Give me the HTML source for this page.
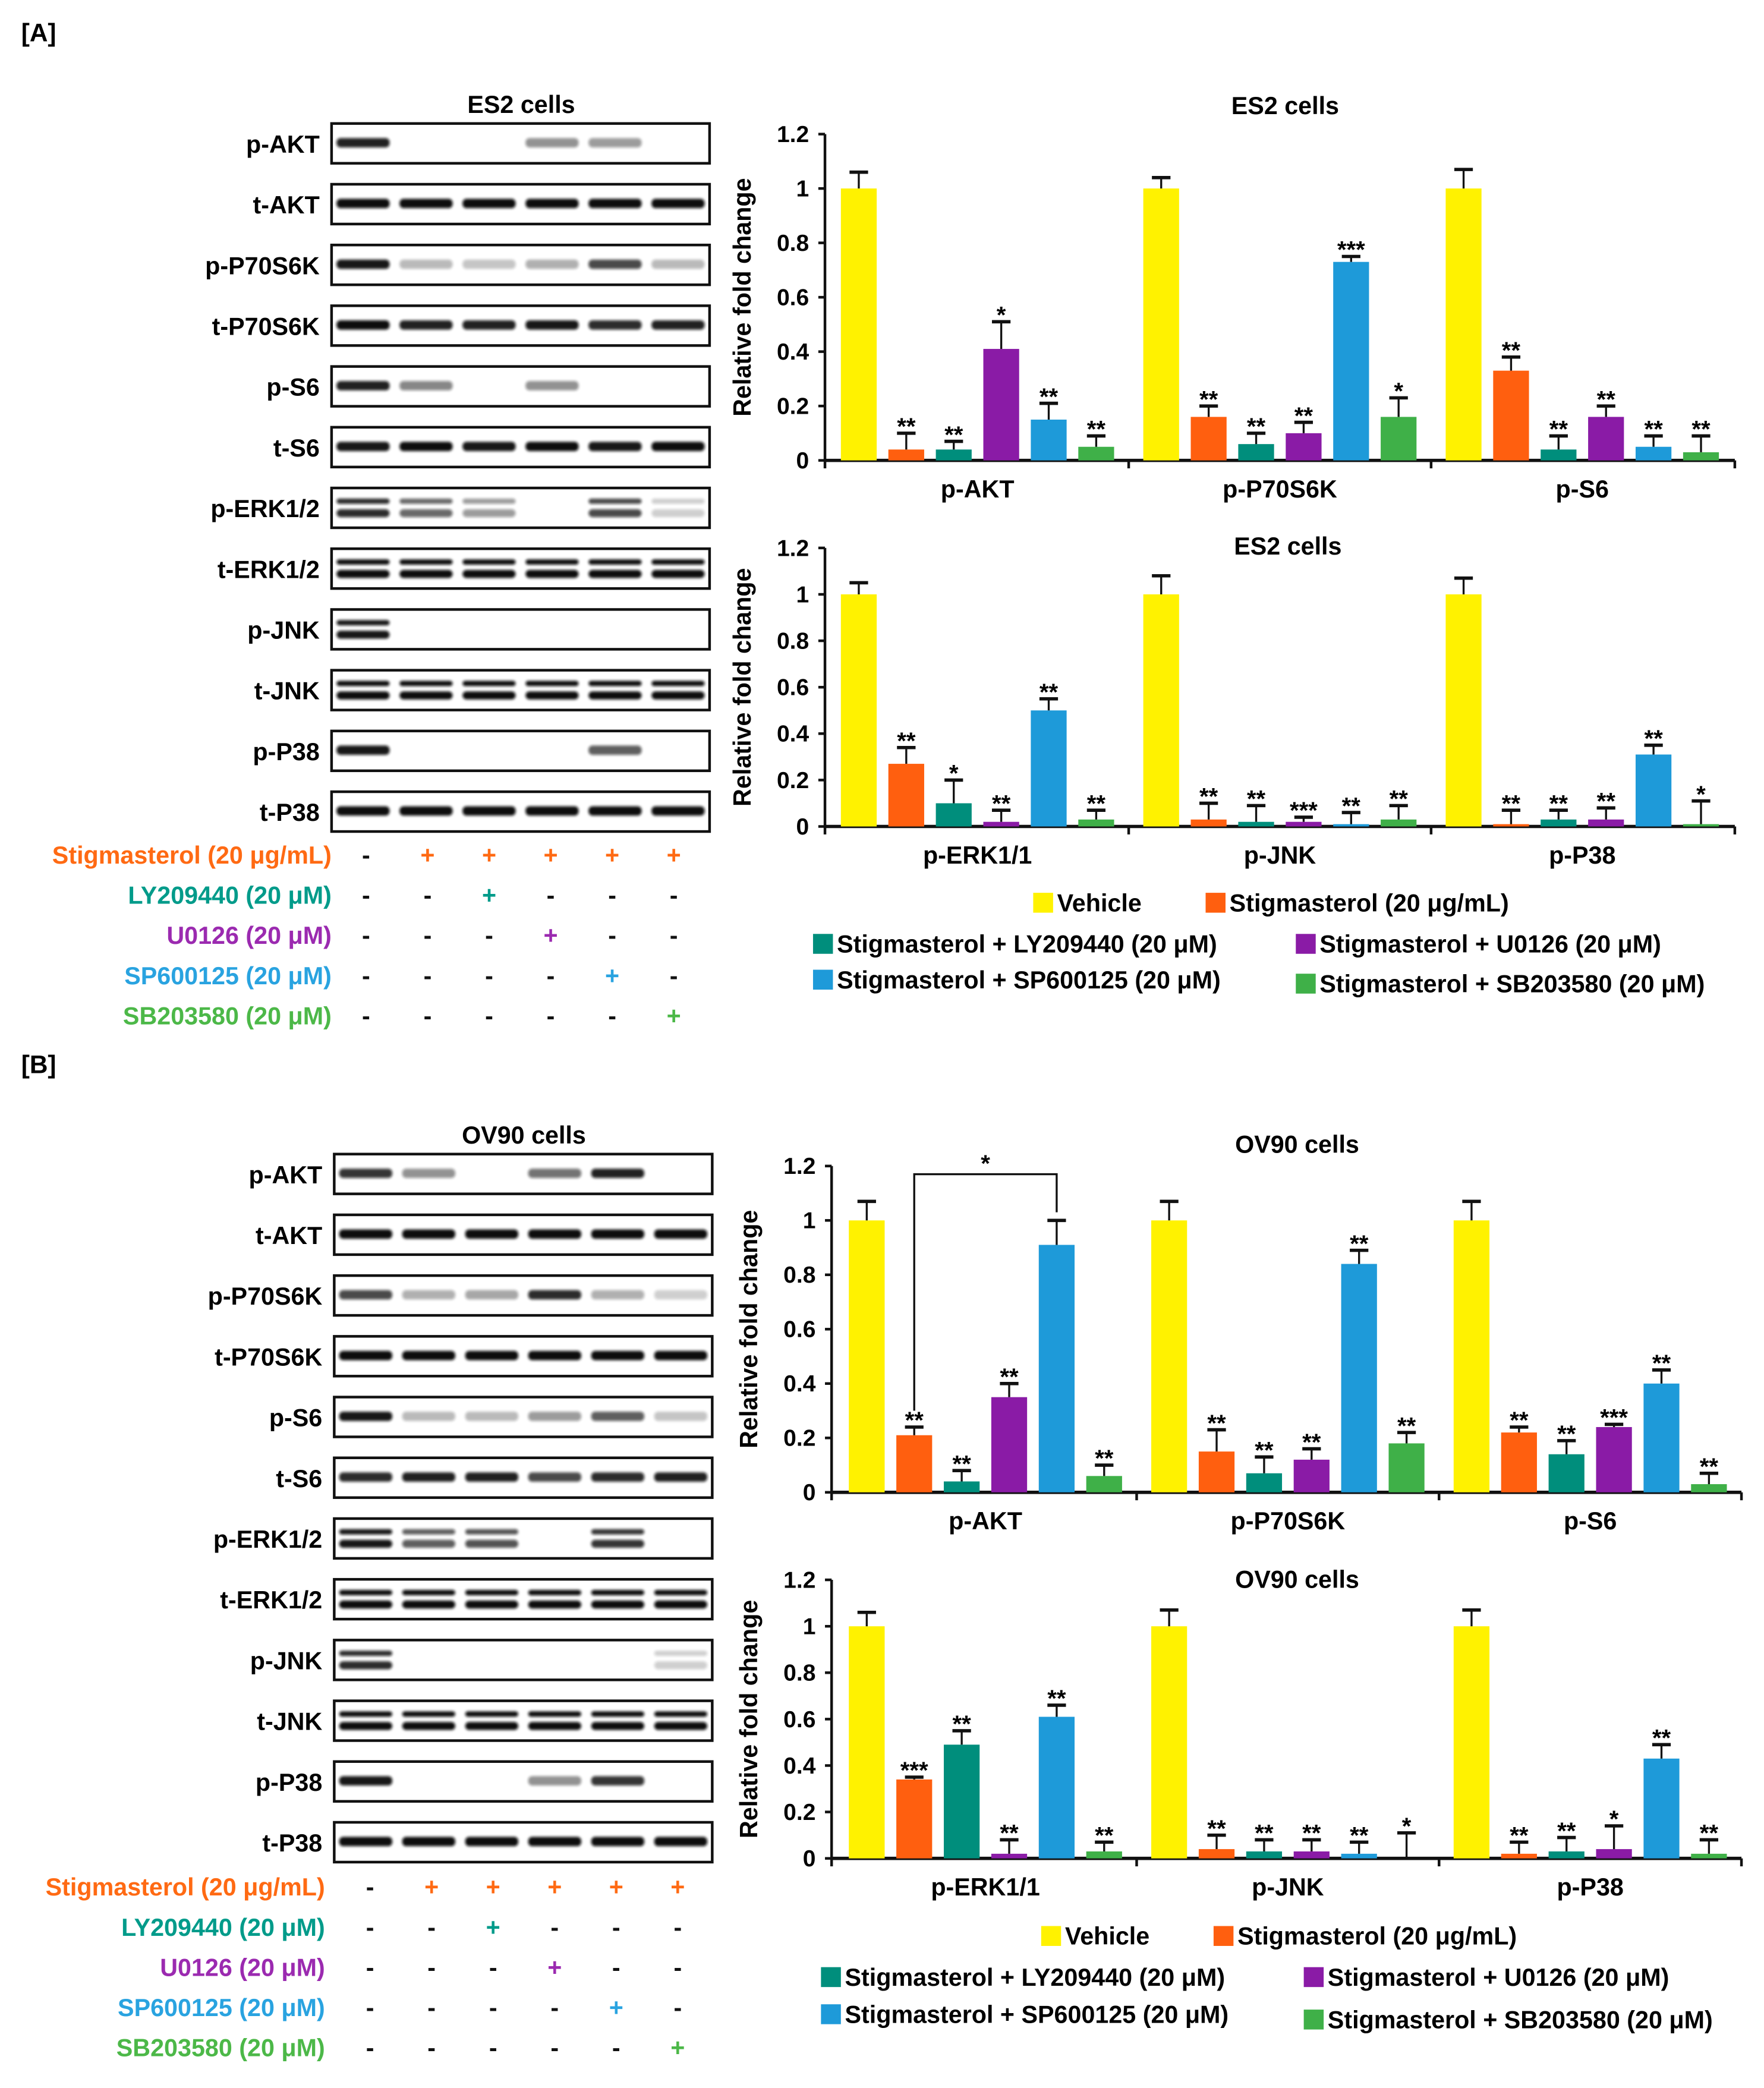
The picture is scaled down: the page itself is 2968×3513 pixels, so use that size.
<!DOCTYPE html>
<html><head><meta charset="utf-8">
<style>
html,body{margin:0;padding:0;background:#fff;}
svg{display:block;}
text{font-family:"Liberation Sans",Arial,sans-serif;font-weight:bold;}
</style></head>
<body>
<svg id="fig" width="2968" height="3513" viewBox="0 0 1330 1574" xmlns="http://www.w3.org/2000/svg">
<defs>
<filter id="blur" x="-20%" y="-100%" width="140%" height="300%"><feGaussianBlur stdDeviation="1.1"/></filter>
</defs>
<text x="16" y="31" font-size="19">[A]</text>
<text x="16" y="809" font-size="19">[B]</text>
<g id="root"></g>
</svg>
<script>
// ---------- data ----------
const groupsTop = ["p-AKT","p-P70S6K","p-S6"];
const groupsBot = ["p-ERK1/1","p-JNK","p-P38"];
const seriesNames = ["Vehicle","Stigmasterol (20 μg/mL)","Stigmasterol + LY209440 (20 μM)","Stigmasterol + U0126 (20 μM)","Stigmasterol + SP600125 (20 μM)","Stigmasterol + SB203580 (20 μM)"];
const yTicks = ["0","0.2","0.4","0.6","0.8","1","1.2"];

const a1Values = [[1,0.04,0.04,0.41,0.15,0.05],[1,0.16,0.06,0.10,0.73,0.16],[1,0.33,0.04,0.16,0.05,0.03]];
const a1Errors = [[0.06,0.06,0.03,0.10,0.06,0.04],[0.04,0.04,0.04,0.04,0.02,0.07],[0.07,0.05,0.05,0.04,0.04,0.06]];
const a1Sig = [["","**","**","*","**","**"],["","**","**","**","***","*"],["","**","**","**","**","**"]];

const a2Values = [[1,0.27,0.10,0.02,0.50,0.03],[1,0.03,0.02,0.02,0.01,0.03],[1,0.01,0.03,0.03,0.31,0.01]];
const a2Errors = [[0.05,0.07,0.10,0.05,0.05,0.04],[0.08,0.07,0.07,0.02,0.05,0.06],[0.07,0.06,0.04,0.05,0.04,0.10]];
const a2Sig = [["","**","*","**","**","**"],["","**","**","***","**","**"],["","**","**","**","**","*"]];

const b1Values = [[1,0.21,0.04,0.35,0.91,0.06],[1,0.15,0.07,0.12,0.84,0.18],[1,0.22,0.14,0.24,0.40,0.03]];
const b1Errors = [[0.07,0.03,0.04,0.05,0.09,0.04],[0.07,0.08,0.06,0.04,0.05,0.04],[0.07,0.02,0.05,0.01,0.05,0.04]];
const b1Sig = [["","**","**","**","","**"],["","**","**","**","**","**"],["","**","**","***","**","**"]];

const b2Values = [[1,0.34,0.49,0.02,0.61,0.03],[1,0.04,0.03,0.03,0.02,0.00],[1,0.02,0.03,0.04,0.43,0.02]];
const b2Errors = [[0.06,0.01,0.06,0.06,0.05,0.04],[0.07,0.06,0.05,0.05,0.05,0.11],[0.07,0.05,0.06,0.10,0.06,0.06]];
const b2Sig = [["","***","**","**","**","**"],["","**","**","**","**","*"],["","**","**","*","**","**"]];

const blotLabels = ["p-AKT","t-AKT","p-P70S6K","t-P70S6K","p-S6","t-S6","p-ERK1/2","t-ERK1/2","p-JNK","t-JNK","p-P38","t-P38"];
const blotA = [[0.9,0,0,0.35,0.3,0],[1,1,1,1,1,1],[0.95,0.15,0.1,0.2,0.7,0.15],[1,0.9,0.9,0.95,0.85,0.9],[0.9,0.4,0,0.35,0,0],[0.95,1,0.95,1,0.95,1],[0.85,0.55,0.3,0,0.7,0.05],[1,1,1,1,1,1],[0.95,0,0,0,0,0],[1,1,1,1,1,1],[0.95,0,0,0,0.6,0],[1,1,1,1,1,1]];
const blotB = [[0.8,0.35,0,0.5,0.9,0],[1,1,1,1,1,1],[0.7,0.2,0.25,0.85,0.2,0.05],[1,1,1,1,1,1],[0.95,0.15,0.15,0.3,0.6,0.1],[0.85,0.9,0.9,0.7,0.85,0.9],[0.95,0.6,0.65,0,0.8,0],[1,1,1,1,1,1],[0.85,0,0,0,0,0.05],[1,1,1,1,1,1],[0.95,0,0,0.35,0.8,0],[1,1,1,1,1,1]];
const treatLabels = ["Stigmasterol (20 μg/mL)","LY209440 (20 μM)","U0126 (20 μM)","SP600125 (20 μM)","SB203580 (20 μM)"];
const treatSigns = [["-","+","+","+","+","+"],["-","-","+","-","-","-"],["-","-","-","+","-","-"],["-","-","-","-","+","-"],["-","-","-","-","-","+"]];

// ---------- styles ----------
const colors = ["#FFF200","#FF5F0F","#008E7C","#8A1BA6","#1E9AD9","#3FB048"];
const tColors = ["#FF6A13","#009B8A","#9B2AB0","#29A3E0","#4CB848"];
const FS = 18.5;
const NS = "http://www.w3.org/2000/svg";
const root = document.getElementById("root");
function el(tag, attrs, parent, txt){
  const e = document.createElementNS(NS, tag);
  for (const k in attrs) e.setAttribute(k, attrs[k]);
  if (txt !== undefined) e.textContent = txt;
  (parent || root).appendChild(e);
  return e;
}
const doubleRows = {6:1,7:1,8:1,9:1};

function blot(x0, y0, title, data, tx, tLabelX, tY){
  const g = el("g", {});
  
  
  const t = el("text", {x: x0+143, y: y0-8, "font-size": FS, "text-anchor": "middle"}, g, title);
  
  
  const laneW = 285/6;
  blotLabels.forEach((lab, r) => {
    const y = y0 + r*45.8;
    const lt = el("text", {x: x0-9, y: y+22, "font-size": FS, "text-anchor": "end"}, g, lab);
    
    
    const box = el("rect", {x: x0, y: y, width: 285, height: 30, fill: "#fff", stroke: "#111", "stroke-width": 2}, g);
    
    
    data[r].forEach((v, i) => {
      if (v <= 0) return;
      const cx = x0 + laneW*(i+0.5);
      const op = 0.15 + 0.85*v;
      const w = 40;
      if (doubleRows[r]) {
        el("rect", {x: cx-w/2, y: y+8, width: w, height: 4, rx: 2, fill: "#111", opacity: op, filter: "url(#blur)"}, g);
        el("rect", {x: cx-w/2, y: y+16, width: w, height: 6, rx: 3, fill: "#111", opacity: op, filter: "url(#blur)"}, g);
      } else {
        el("rect", {x: cx-w/2, y: y+11, width: w, height: 7, rx: 3, fill: "#111", opacity: op, filter: "url(#blur)"}, g);
      }
    });
  });
  treatLabels.forEach((lab, r) => {
    const y = tY + r*30.3;
    const lt = el("text", {x: tLabelX, y: y+6, "font-size": FS, "text-anchor": "end", fill: tColors[r]}, g, lab);
    
    
    treatSigns[r].forEach((s, i) => {
      const st = el("text", {x: tx + i*46.4, y: y+6, "font-size": FS, "text-anchor": "middle", fill: s === "+" ? tColors[r] : "#111"}, g, s);
      
      
    });
  });
}

function chart(name, axX, y0, perUnit, gCenters, groups, vals, errs, sigs, title, titleX, titleY){
  const g = el("g", {});
  
  
  const yS = v => y0 - v*perUnit;
  const right = axX + 686;
  const t = el("text", {x: titleX, y: titleY, "font-size": FS, "text-anchor": "middle"}, g, title);
  
  
  const yl = el("text", {transform: `translate(${axX-56},${yS(0.6)}) rotate(-90)`, "font-size": FS, "text-anchor": "middle"}, g, "Relative fold change");
  
  
  yTicks.forEach(tk => {
    const y = yS(parseFloat(tk));
    el("line", {x1: axX-5, x2: axX, y1: y, y2: y, stroke: "#111", "stroke-width": 2}, g);
    const tt = el("text", {x: axX-12, y: y+6, "font-size": 17.5, "text-anchor": "end"}, g, tk);
    
    
  });
  const ya = el("line", {x1: axX, x2: axX, y1: yS(1.2), y2: y0+1, stroke: "#111", "stroke-width": 2}, g);
  
  
  const xa = el("line", {x1: axX, x2: right, y1: y0, y2: y0, stroke: "#111", "stroke-width": 2.5}, g);
  
  
  [axX, gCenters[0]+114, gCenters[1]+114, right].forEach(x => el("line", {x1: x, x2: x, y1: y0, y2: y0+6, stroke: "#111", "stroke-width": 2}, g));
  groups.forEach((grp, gi) => {
    const ct = el("text", {x: gCenters[gi], y: y0+28, "font-size": FS, "text-anchor": "middle"}, g, grp);
    
    
    vals[gi].forEach((v, si) => {
      const cx = gCenters[gi] + (si-2.5)*35.8;
      const top = yS(v), et = yS(v + errs[gi][si]);
      const b = el("rect", {x: cx-13.5, y: top, width: 27, height: y0-top, fill: colors[si]}, g);
      
      
      el("line", {x1: cx, x2: cx, y1: top, y2: et, stroke: "#111", "stroke-width": 1.5}, g);
      el("line", {x1: cx-7, x2: cx+7, y1: et, y2: et, stroke: "#111", "stroke-width": 2.5}, g);
      if (sigs[gi][si]) {
        const st = el("text", {x: cx, y: et+1, "font-size": 18, "text-anchor": "middle"}, g, sigs[gi][si]);
        
        
      }
    });
  });
  return {yS};
}

function legend(pos){
  const g = el("g", {});
  
  
  seriesNames.forEach((n, i) => {
    const [x, y] = pos[i];
    const sw = el("rect", {x: x, y: y-7, width: 15, height: 15, fill: colors[i]}, g);
    
    
    const tt = el("text", {x: x+18, y: y+7, "font-size": FS}, g, n);
    
    
  });
}

// Panel A
blot(250, 93, "ES2 cells", blotA, 276, 250, 645);
chart("chart-a-top", 622, 347, 205, [737,965,1193], groupsTop, a1Values, a1Errors, a1Sig, "ES2 cells", 969, 86);
chart("chart-a-bottom", 622, 623, 175, [737,965,1193], groupsBot, a2Values, a2Errors, a2Sig, "ES2 cells", 971, 418);
legend([[779,680],[909,680],[613,711],[977,711],[613,738],[977,741]]);

// Panel B
blot(252, 870, "OV90 cells", blotB, 279, 245, 1423);
const cb = chart("chart-b-top", 627, 1125, 205, [743,971,1199], groupsTop, b1Values, b1Errors, b1Sig, "OV90 cells", 978, 869);
chart("chart-b-bottom", 627, 1401, 175, [743,971,1199], groupsBot, b2Values, b2Errors, b2Sig, "OV90 cells", 978, 1197);
legend([[785,1459],[915,1459],[619,1490],[983,1490],[619,1518],[983,1522]]);

// bracket between stigmasterol and SP600125 in OV90 p-AKT
const xA = 743 + (1-2.5)*35.8, xB = 743 + (4-2.5)*35.8;
const yTop = cb.yS(1.17);
const br = el("polyline", {points: `${xA},${cb.yS(0.3)} ${xA},${yTop} ${xB},${yTop} ${xB},${cb.yS(1.03)}`, fill: "none", stroke: "#111", "stroke-width": 1.5});


const bs = el("text", {x: (xA+xB)/2, y: yTop-2, "font-size": 18, "text-anchor": "middle"}, root, "*");


</script>
</body></html>
